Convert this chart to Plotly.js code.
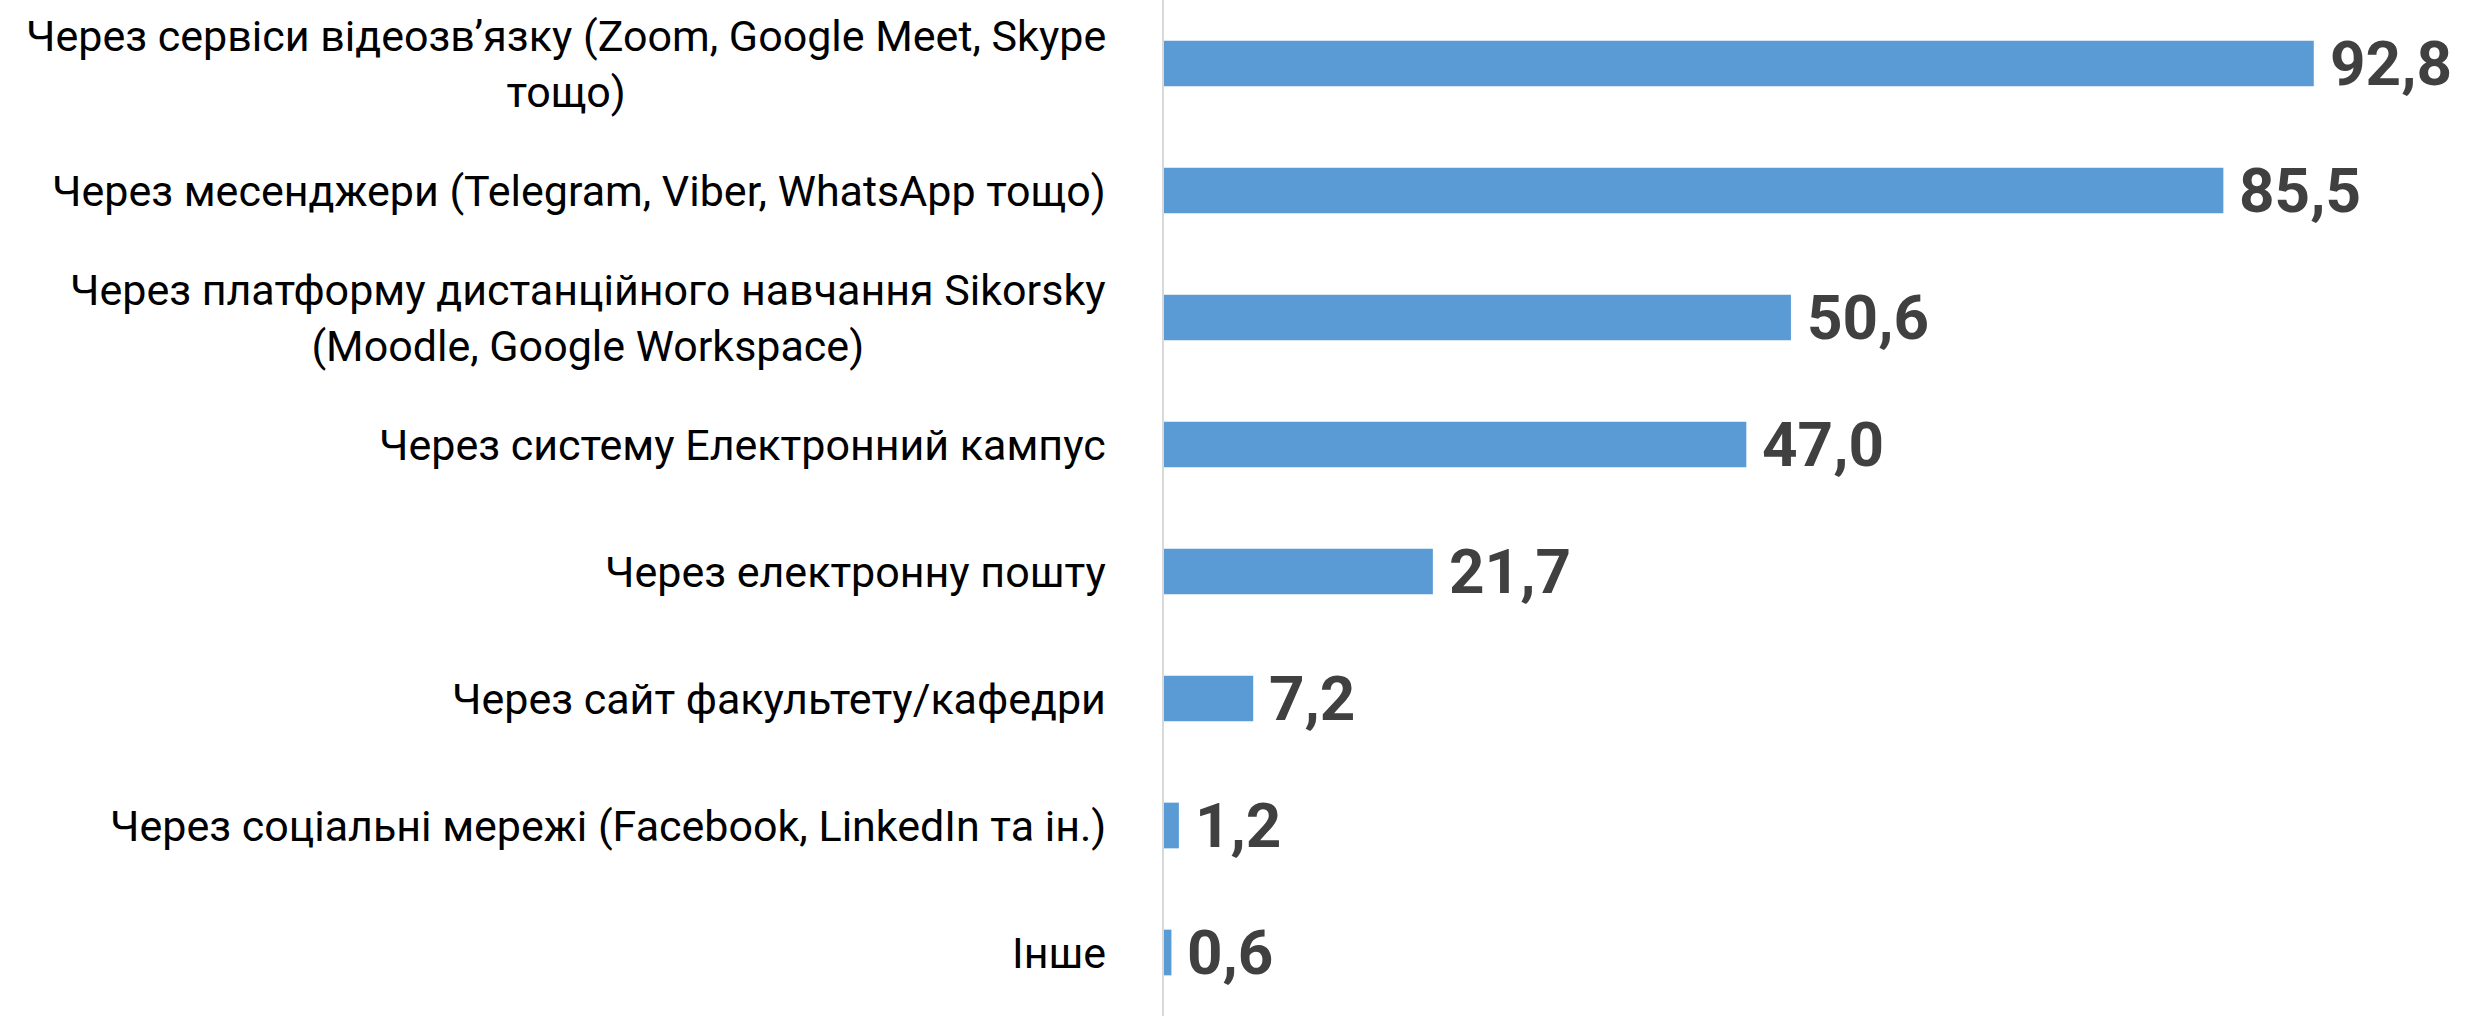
<!DOCTYPE html>
<html><head><meta charset="utf-8">
<script src="https://cdn.plot.ly/plotly-3.0.1.min.js"></script>
<style>html,body{margin:0;padding:0;background:#fff;}#chart{width:2476px;height:1016px;}</style>
</head><body><div id="chart"></div>
<script>
const categories = [
  "Через сервіси відеозв’язку (Zoom, Google Meet, Skype<br>тощо)",
  "Через месенджери (Telegram, Viber, WhatsApp тощо)",
  "Через платформу дистанційного навчання Sikorsky<br>(Moodle, Google Workspace)",
  "Через систему Електронний кампус",
  "Через електронну пошту",
  "Через сайт факультету/кафедри",
  "Через соціальні мережі (Facebook, LinkedIn та ін.)",
  "Інше"
];
const values = [92.8, 85.5, 50.6, 47.0, 21.7, 7.2, 1.2, 0.6];

const FONT = 'Roboto, "Open Sans", sans-serif';

const catAnn = categories.map(c => ({
  xref: 'paper', yref: 'y', x: 0, y: c, text: c,
  xanchor: 'right', yanchor: 'middle', align: 'center', xshift: -56,
  showarrow: false, font: {family: FONT, size: 43, color: '#000'}
}));
const valAnn = categories.map((c, i) => ({
  xref: 'x', yref: 'y', x: values[i], y: c,
  text: values[i].toFixed(1).replace('.', ','),
  xanchor: 'left', yanchor: 'middle', xshift: 14, showarrow: false,
  font: {family: FONT, size: 62, color: '#404040', weight: 'bold'}
}));

Plotly.newPlot('chart', [{
  type: 'bar', orientation: 'h', x: values, y: categories,
  marker: {color: '#5b9bd5'}, hoverinfo: 'none'
}], {
  width: 2476, height: 1016,
  margin: {l: 1164, r: 73, t: 0, b: 0},
  paper_bgcolor: '#fff', plot_bgcolor: '#fff',
  bargap: 0.64, showlegend: false,
  xaxis: {range: [0, 100], showgrid: false, zeroline: false, showticklabels: false, showline: false},
  yaxis: {autorange: 'reversed', showticklabels: false, showgrid: false, zeroline: false,
          showline: true, linecolor: '#d9d9d9', linewidth: 2},
  annotations: catAnn.concat(valAnn)
}, {displayModeBar: false, staticPlot: true});
</script></body></html>
